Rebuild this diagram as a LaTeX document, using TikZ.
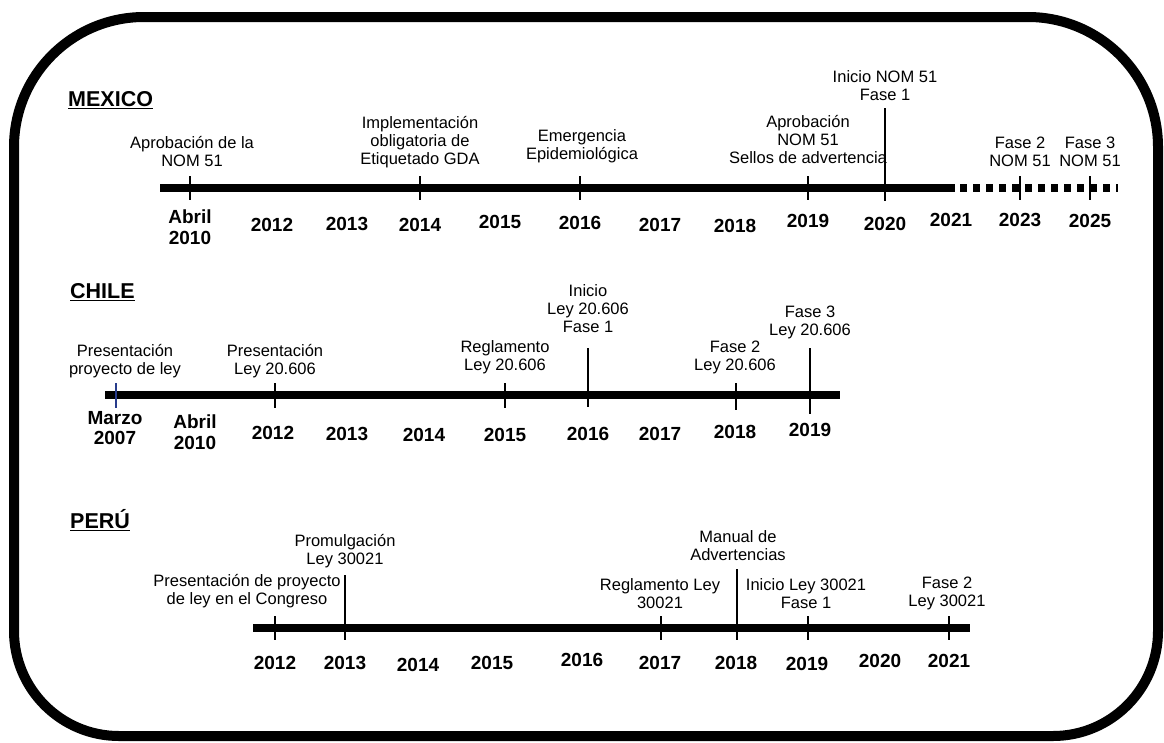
\documentclass[tikz,border=0pt]{standalone}
\usepackage{fontspec}
\setmainfont{Liberation Sans}
\begin{document}
\begin{tikzpicture}[x=1pt,y=-1pt,
  lbl/.style={font=\fontsize{16.5}{18}\selectfont, align=center, inner sep=0pt},
  yr/.style={font=\bfseries\fontsize{19}{20.5}\selectfont, align=center, inner sep=0pt},
  ttl/.style={font=\bfseries\fontsize{21.5}{23}\selectfont, inner sep=0pt, anchor=west},
  axis/.style={line width=7.5pt},
  tickline/.style={line width=1.8pt},
  frame/.style={line width=10pt}]
\useasboundingbox (0,0) rectangle (1164,742);
\draw[frame] (144,17) -- (1028,17) arc[start angle=-90, end angle=0, radius=130]
  -- (1158,631) arc[start angle=0, end angle=90, radius=105]
  -- (119,736) arc[start angle=90, end angle=180, radius=105]
  -- (14,147) arc[start angle=180, end angle=270, radius=130] -- cycle;

% ---------------- MEXICO ----------------
\node[ttl] (mx) at (68,100) {\underline{MEXICO}};
\coordinate (mxa) at (160,188);
\coordinate (mxb) at (955,188);
\coordinate (mxc) at (960,188);
\coordinate (mxd) at (1118,188);
\draw[axis] (mxa) -- (mxb);
\draw[axis, dash pattern=on 7pt off 6pt] (mxc) -- (mxd);
\foreach \x in {190,420,580,808,1020,1090}{
  \draw[tickline] (\x,176) -- (\x,200);}
\draw[tickline] (885,108) -- (885,201);

\node[lbl] (m1) at (192,151.5) {Aprobación de la\\NOM 51};
\node[lbl] (m2) at (420,142) {Implementación\\obligatoria de\\Etiquetado GDA};
\node[lbl] (m3) at (582,146) {Emergencia\\Epidemiológica};
\node[lbl] (m4) at (808,140) {Aprobación\\NOM 51\\Sellos de advertencia};
\node[lbl] (m5) at (885,86) {Inicio NOM 51\\Fase 1};
\node[lbl] (m6) at (1020,151.5) {Fase 2\\NOM 51};
\node[lbl] (m7) at (1090,151.5) {Fase 3\\NOM 51};

\node[yr] (my0) at (190,227) {Abril\\2010};
\node[yr] (my1) at (272,225) {2012};
\node[yr] (my2) at (347,224) {2013};
\node[yr] (my3) at (420,225) {2014};
\node[yr] (my4) at (500,222) {2015};
\node[yr] (my5) at (580,223) {2016};
\node[yr] (my6) at (660,225) {2017};
\node[yr] (my7) at (735,226) {2018};
\node[yr] (my8) at (808,221) {2019};
\node[yr] (my9) at (885,224) {2020};
\node[yr] (my10) at (951,220) {2021};
\node[yr] (my11) at (1020,220) {2023};
\node[yr] (my12) at (1090,221) {2025};

% ---------------- CHILE ----------------
\node[ttl] (cl) at (70,292) {\underline{CHILE}};
\coordinate (cla) at (105,395);
\coordinate (clb) at (840,395);
\draw[axis] (cla) -- (clb);
\draw[line width=1.5pt, draw={rgb,255:red,40;green,60;blue,140}] (116,383) -- (116,408);
\foreach \x in {275,505}{\draw[tickline] (\x,383) -- (\x,408);}
\draw[tickline] (736,383) -- (736,410);
\draw[tickline] (588,348) -- (588,407);
\draw[tickline] (810,348) -- (810,414);

\node[lbl] (c1) at (125,361) {Presentación\\proyecto de ley};
\node[lbl] (c2) at (275,361) {Presentación\\Ley 20.606};
\node[lbl] (c3) at (505,357) {Reglamento\\Ley 20.606};
\node[lbl] (c4) at (588,309) {Inicio\\Ley 20.606\\Fase 1};
\node[lbl] (c5) at (735,357) {Fase 2\\Ley 20.606};
\node[lbl] (c6) at (810,322) {Fase 3\\Ley 20.606};

\node[yr] (cy0) at (115,428) {Marzo\\2007};
\node[yr] (cy1) at (195,432) {Abril\\2010};
\node[yr] (cy2) at (273,433) {2012};
\node[yr] (cy3) at (347,434) {2013};
\node[yr] (cy4) at (424,435) {2014};
\node[yr] (cy5) at (505,435) {2015};
\node[yr] (cy6) at (588,434) {2016};
\node[yr] (cy7) at (660,434) {2017};
\node[yr] (cy8) at (735,432) {2018};
\node[yr] (cy9) at (810,430) {2019};

% ---------------- PERU ----------------
\node[ttl] (pe) at (70,520) {\underline{PERÚ}};
\coordinate (pea) at (253,628);
\coordinate (peb) at (970,628);
\draw[axis] (pea) -- (peb);
\foreach \x in {275,661,808,949}{\draw[tickline] (\x,616) -- (\x,640);}
\draw[tickline] (345,575) -- (345,640);
\draw[tickline] (737,569) -- (737,640);

\node[lbl] (p1) at (247,591) {Presentación de proyecto\\de ley en el Congreso};
\node[lbl] (p2) at (345,551) {Promulgación\\Ley 30021};
\node[lbl] (p3) at (660,593.5) {Reglamento Ley\\30021};
\node[lbl] (p4) at (738,546) {Manual de\\Advertencias};
\node[lbl] (p5) at (806,593.5) {Inicio Ley 30021\\Fase 1};
\node[lbl] (p6) at (947,593.5) {Fase 2\\Ley 30021};

\node[yr] (py1) at (275,663) {2012};
\node[yr] (py2) at (345,663) {2013};
\node[yr] (py3) at (418,665) {2014};
\node[yr] (py4) at (492,663) {2015};
\node[yr] (py5) at (582,660) {2016};
\node[yr] (py6) at (660,663) {2017};
\node[yr] (py7) at (736,663) {2018};
\node[yr] (py8) at (807,664) {2019};
\node[yr] (py9) at (880,661) {2020};
\node[yr] (py10) at (949,661) {2021};
\end{tikzpicture}
\end{document}
